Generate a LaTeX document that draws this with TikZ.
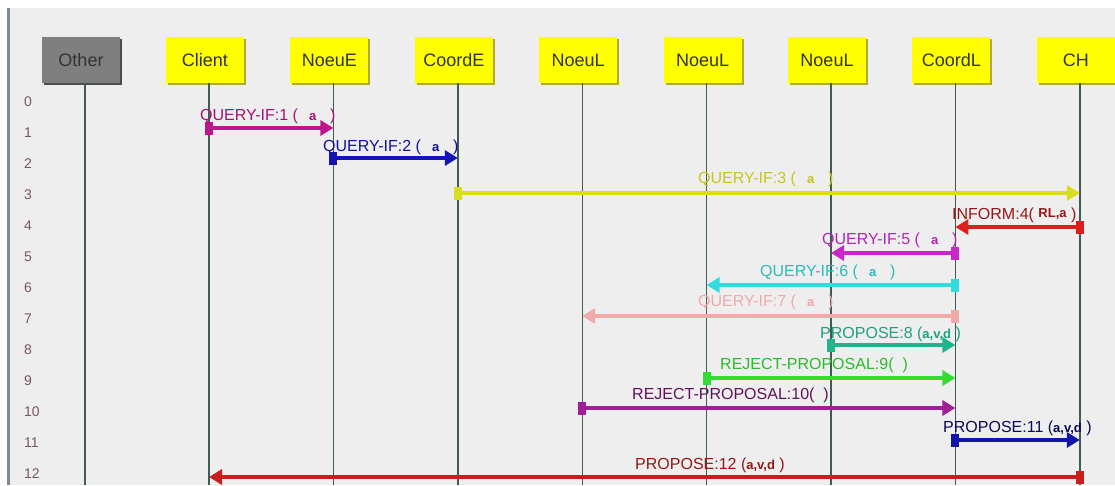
\documentclass[tikz,border=0pt]{standalone}
\usepackage{fontspec}
\setsansfont{Liberation Sans}
\usetikzlibrary{positioning,arrows.meta,shadows}
\definecolor{panel}{HTML}{EEEEEE}
\definecolor{rim}{HTML}{7D8A96}
\definecolor{sticky}{HTML}{FFFF00}
\definecolor{stickyshade}{HTML}{B0A83C}
\definecolor{otherfill}{HTML}{7F7F7F}
\definecolor{othershade}{HTML}{4C4C4C}
\definecolor{lane}{HTML}{3E5C55}
\definecolor{rownum}{HTML}{7A5660}
% message colours
\definecolor{plum}{HTML}{C0168C}
\definecolor{navy}{HTML}{1414B4}
\definecolor{lemon}{HTML}{DCDC1E}
\definecolor{scarlet}{HTML}{DC1E1E}
\definecolor{orchid}{HTML}{C828C8}
\definecolor{aqua}{HTML}{32DCDC}
\definecolor{blush}{HTML}{F0AAAA}
\definecolor{jade}{HTML}{1EB48C}
\definecolor{lime}{HTML}{32DC32}
\definecolor{grape}{HTML}{A01E96}
\definecolor{cobalt}{HTML}{1414AA}
\definecolor{crimson}{HTML}{C81E1E}
\newcommand\prm[1]{{\fontsize{13}{13}\selectfont\bfseries #1}}
\newcommand\qa{(\hspace{11pt}\prm{a}\hspace{14pt})}

\begin{document}
\begin{tikzpicture}[
  x=1pt, y=-1pt,
  font=\sffamily,
  tag/.style={minimum width=78pt, minimum height=46pt, inner sep=0pt, text=black!80, font=\sffamily\fontsize{18}{20}\selectfont},
  actor/.style={tag, fill=sticky, drop shadow={shadow xshift=2pt, shadow yshift=-2pt, fill=stickyshade, opacity=1}},
  other/.style={tag, fill=otherfill, drop shadow={shadow xshift=2pt, shadow yshift=-2pt, fill=othershade, opacity=1}},
  life/.style={draw=lane, line width=1.4pt},
  msg/.style={line width=4.5pt, {Square[length=8pt,width=13pt]}-{Triangle[length=13pt,width=15pt]}, shorten <=-4pt},
  lbl/.style={anchor=west, inner sep=0pt, font=\sffamily\fontsize{16}{18}\selectfont},
  num/.style={anchor=west, inner sep=0pt, text=rownum, font=\sffamily\fontsize{14}{16}\selectfont},
]

% ---------- panel ----------
\useasboundingbox (0,0) rectangle (1115,485);
\fill[white] (0,0) rectangle (1115,485);
\fill[panel] (9,8) rectangle (1115,485);
\draw[rim, line width=3pt] (8,8) -- (8,485);
\coordinate (bot) at (0,485);

% ---------- actors ----------
\node[other] (OT) at (81,60) {Other};
\node[actor] (CL) at (205,60) {Client};
\node[actor, right=46pt of CL] (NE) {NoeuE};
\node[actor, right=46pt of NE] (CE) {CoordE};
\node[actor, right=46pt of CE] (LA) {NoeuL};
\node[actor, right=46pt of LA] (LB) {NoeuL};
\node[actor, right=46pt of LB] (LC) {NoeuL};
\node[actor, right=46pt of LC] (CD) {CoordL};
\node[actor, right=46pt of CD] (CH) {CH};

% ---------- lifelines ----------
\foreach \a in {OT,CL,NE,CE,LA,LB,LC,CD,CH} {
  \coordinate (\a x) at ([xshift=4pt]\a.south);
  \draw[life] (\a x) -- (\a x |- bot);
}

% ---------- row numbers ----------
\foreach \i in {0,...,12}
  \node[num] (n\i) at (24,102+31*\i) {\i};

% message rows
\foreach \i/\y in {1/128,2/158,3/193,4/227,5/253,6/285,7/316,8/345,9/378,10/408,11/440,12/477}
  \coordinate (m\i) at (0,\y);

% ---------- messages ----------
\draw[msg, plum]    (CLx|-m1)  -- (NEx|-m1);
\draw[msg, navy]    (NEx|-m2)  -- (CEx|-m2);
\draw[msg, lemon]   (CEx|-m3)  -- (CHx|-m3);
\draw[msg, scarlet] (CHx|-m4)  -- (CDx|-m4);
\draw[msg, orchid]  (CDx|-m5)  -- (LCx|-m5);
\draw[msg, aqua]    (CDx|-m6)  -- (LBx|-m6);
\draw[msg, blush]   (CDx|-m7)  -- (LAx|-m7);
\draw[msg, jade]    (LCx|-m8)  -- (CDx|-m8);
\draw[msg, lime]    (LBx|-m9)  -- (CDx|-m9);
\draw[msg, grape]   (LAx|-m10) -- (CDx|-m10);
\draw[msg, cobalt]  (CDx|-m11) -- (CHx|-m11);
\draw[msg, crimson] (CHx|-m12) -- (CLx|-m12);

% ---------- labels ----------
\node[lbl, text=plum!85!black]    (t1)  at (200,116) {QUERY-IF:1 \qa};
\node[lbl, text=navy!85!black]    (t2)  at (323,147) {QUERY-IF:2 \qa};
\node[lbl, text=lemon!90!black]   (t3)  at (698,179) {QUERY-IF:3 \qa};
\node[lbl, text=scarlet!70!black] (t4)  at (952,215) {INFORM:4( \raisebox{2pt}{\prm{RL,a}} )};
\node[lbl, text=orchid!90!black]  (t5)  at (822,240) {QUERY-IF:5 \qa};
\node[lbl, text=aqua!85!black]    (t6)  at (760,272) {QUERY-IF:6 \qa};
\node[lbl, text=blush]            (t7)  at (698,302) {QUERY-IF:7 \qa};
\node[lbl, text=jade!90!black]    (t8)  at (820,334) {PROPOSE:8 (\prm{a,v,d} )};
\node[lbl, text=lime!85!black]    (t9)  at (720,365) {REJECT-PROPOSAL:9(\hspace{9pt})};
\node[lbl, text=grape!60!black]   (t10) at (632,395) {REJECT-PROPOSAL:10(\hspace{9pt})};
\node[lbl, text=cobalt!50!black]  (t11) at (943,428) {PROPOSE:11 (\prm{a,v,d} )};
\node[lbl, text=crimson!75!black] (t12) at (635,465) {PROPOSE:12 (\prm{a,v,d} )};

\end{tikzpicture}
\end{document}
